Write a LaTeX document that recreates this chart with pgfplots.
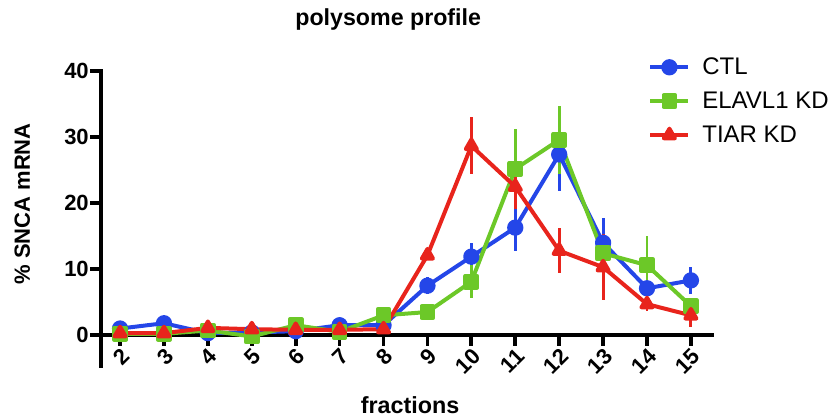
\documentclass[border=0pt]{standalone}
\usepackage{fontspec}
\setmainfont{Liberation Sans}
\usepackage{pgfplots}
\usepackage{pgfplotstable}
\pgfplotsset{compat=1.18}

\definecolor{ctlblue}{RGB}{36,70,232}
\definecolor{elavgreen}{RGB}{108,200,40}
\definecolor{tiarred}{RGB}{232,36,28}

% fraction, mean, error
\pgfplotstableread{
x y e
2 1.0 0
3 1.8 0.3
4 0.3 0
5 0.4 0
6 0.6 0
7 1.5 0.4
8 1.5 0.3
9 7.5 1.3
10 11.9 2.0
11 16.3 3.6
12 27.4 5.6
13 14.0 3.7
14 7.1 1.0
15 8.3 2.0
}\ctl
\pgfplotstableread{
x y e
2 0.2 0
3 0.2 0
4 0.7 0
5 -0.2 0
6 1.5 0.3
7 0.5 0
8 3.0 0.3
9 3.5 0
10 8.1 2.5
11 25.2 6.1
12 29.6 5.1
13 12.4 2.0
14 10.6 4.5
15 4.4 0.8
}\elav
\pgfplotstableread{
x y e
2 0.3 0
3 0.3 0
4 1.1 0.8
5 0.9 0.4
6 0.8 0
7 0.8 0
8 0.9 0
9 12.1 0
10 28.7 4.3
11 22.5 3.4
12 12.8 3.4
13 10.3 5.0
14 4.7 1.0
15 3.0 1.8
}\tiar

\begin{document}
\begin{tikzpicture}
\useasboundingbox (0,0) rectangle (626.25pt,315pt);
\begin{axis}[
  at={(75.75pt,40.9pt)}, anchor=south west,
  scale only axis, width=458.25pt, height=221.1pt,
  xmin=1.566, xmax=15.48, ymin=-4.6, ymax=40.1,
  axis x line=middle, axis y line=left,
  axis line style={-, line width=3.2pt, line cap=rect},
  hide obscured x ticks=false, hide obscured y ticks=false,
  xtick={2,...,15}, ytick={0,10,20,30,40},
  minor tick num=0,
  tick align=outside,
  major tick length=8pt,
  every tick/.style={black, line width=2.8pt},
  /pgf/number format/assume math mode=true,
  tick label style={font=\bfseries\fontsize{16.5}{18}\selectfont},
  x tick label style={rotate=45, anchor=north east, inner sep=0.5pt},
  y tick label style={inner sep=1pt},
  every axis title shift=0pt,
  title={polysome profile},
  title style={at={(axis description cs:0.47,1.172)}, anchor=center,
    font=\bfseries\fontsize{17.4}{19}\selectfont},
  xlabel={fractions},
  xlabel style={at={(axis description cs:0.506,-0.134)}, anchor=center,
    font=\bfseries\fontsize{17.5}{19}\selectfont},
  ylabel={\% SNCA mRNA},
  ylabel style={at={(axis description cs:-0.129,0.548)}, anchor=center, rotate=0,
    font=\bfseries\fontsize{16.5}{18}\selectfont},
  clip=false,
  legend style={draw=none, fill=none,
    at={(axis description cs:0.889,1.06)}, anchor=north west,
    font=\fontsize{18}{20}\selectfont, row sep=8.5pt,
    nodes={inner sep=1.5pt},
    /tikz/every odd column/.append style={column sep=7.5pt}},
  legend cell align=left,
  legend image code/.code={%
    \draw[mark repeat=2, mark phase=2] plot coordinates {(0cm,0cm) (0.5cm,0cm) (1cm,0cm)};},
  every axis plot/.append style={line width=3pt, line join=round},
  error bars/y dir=both, error bars/y explicit,
  error bars/error mark=none,
]
\addplot[ctlblue, mark=*, mark size=4.6pt,
  error bars/error bar style={line width=2.2pt, ctlblue}]
  table[x=x, y=y, y error=e] {\ctl};
\addlegendentry{CTL}
\addplot[elavgreen, mark=square*, mark size=4.4pt,
  error bars/error bar style={line width=2.2pt, elavgreen}]
  table[x=x, y=y, y error=e] {\elav};
\addlegendentry{ELAVL1 KD}
\addplot[tiarred, mark=triangle*, mark size=4.8pt,
  error bars/error bar style={line width=2.2pt, tiarred}]
  table[x=x, y=y, y error=e] {\tiar};
\addlegendentry{TIAR KD}
\end{axis}
\end{tikzpicture}
\end{document}
